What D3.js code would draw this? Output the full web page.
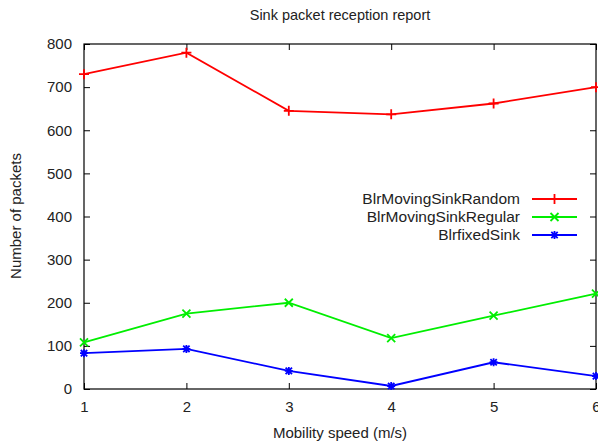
<!DOCTYPE html>
<html>
<head>
<meta charset="utf-8">
<script src="https://cdn.jsdelivr.net/npm/d3@7"></script>
<style>
  body { margin: 0; background: #fff; }
  text { font-family: "Liberation Sans", Arial, sans-serif; fill: #222; }
</style>
</head>
<body>
<div id="chart"></div>
<script>
const speeds = [1, 2, 3, 4, 5, 6];
const randomSink = [730, 780, 645, 637, 662, 700];
const regularSink = [108, 175, 200, 118, 170, 221];
const fixedSink = [83, 93, 42, 7, 62, 30];
const yTicks = [0, 100, 200, 300, 400, 500, 600, 700, 800];

const series = [
  { name: "BlrMovingSinkRandom", values: randomSink, color: "#ff0000", mark: "plus" },
  { name: "BlrMovingSinkRegular", values: regularSink, color: "#00ee00", mark: "cross" },
  { name: "BlrfixedSink", values: fixedSink, color: "#0000ff", mark: "star" }
];

const width = 598, height = 445;
const plotLeft = 84, plotRight = 596, plotTop = 44, plotBottom = 389;

const svg = d3.select("#chart").append("svg")
  .attr("width", width)
  .attr("height", height);

const x = d3.scaleLinear().domain([1, 6]).range([plotLeft, plotRight]);
const y = d3.scaleLinear().domain([0, 800]).range([plotBottom, plotTop]);

// frame
svg.append("rect")
  .attr("x", plotLeft).attr("y", plotTop)
  .attr("width", plotRight - plotLeft).attr("height", plotBottom - plotTop)
  .attr("fill", "none").attr("stroke", "#000").attr("stroke-width", 1.2);

// axes, ticks inward, mirrored
const ax = svg.append("g");
ax.append("g").attr("transform", `translate(0,${plotBottom})`)
  .call(d3.axisBottom(x).tickValues(speeds).tickSize(-6).tickPadding(12).tickFormat(d3.format("d")))
  .call(g => g.select(".domain").remove());
ax.append("g").attr("transform", `translate(0,${plotTop})`)
  .call(d3.axisTop(x).tickValues(speeds).tickSize(-6).tickFormat(""))
  .call(g => g.select(".domain").remove());
ax.append("g").attr("transform", `translate(${plotLeft},0)`)
  .call(d3.axisLeft(y).tickValues(yTicks).tickSize(-6).tickPadding(12))
  .call(g => g.select(".domain").remove());
ax.append("g").attr("transform", `translate(${plotRight},0)`)
  .call(d3.axisRight(y).tickValues(yTicks).tickSize(-6).tickFormat(""))
  .call(g => g.select(".domain").remove());
ax.selectAll("g").attr("font-size", null).attr("font-family", null);
ax.selectAll("text").attr("font-size", 15).attr("fill", "#222");
ax.selectAll(".tick line").attr("stroke", "#000");

function marker(g, type, size) {
  const s = size;
  const p = d3.path();
  if (type === "plus" || type === "star") {
    p.moveTo(-s, 0); p.lineTo(s, 0);
    p.moveTo(0, -s); p.lineTo(0, s);
  }
  if (type === "cross" || type === "star") {
    p.moveTo(-s * 0.8, -s * 0.8); p.lineTo(s * 0.8, s * 0.8);
    p.moveTo(-s * 0.8, s * 0.8); p.lineTo(s * 0.8, -s * 0.8);
  }
  g.append("path").attr("d", p.toString());
}

const line = d3.line().x((d, i) => x(speeds[i])).y(d => y(d));

series.forEach(s => {
  svg.append("path")
    .datum(s.values)
    .attr("d", line)
    .attr("fill", "none")
    .attr("stroke", s.color)
    .attr("stroke-width", 1.8);
  const pts = svg.append("g").attr("stroke", s.color).attr("stroke-width", 1.8);
  s.values.forEach((v, i) => {
    const g = pts.append("g").attr("transform", `translate(${x(speeds[i])},${y(v)})`);
    marker(g, s.mark, s.mark === "star" ? 4 : 5);
  });
});

// legend
const leg = svg.append("g").attr("transform", "translate(520,199)");
series.forEach((s, i) => {
  const r = leg.append("g").attr("transform", `translate(0,${i * 18})`);
  r.append("text").attr("x", 0).attr("y", 5).attr("text-anchor", "end")
    .attr("font-size", 15.5).text(s.name);
  r.append("line").attr("x1", 12).attr("x2", 57).attr("y1", 0).attr("y2", 0)
    .attr("stroke", s.color).attr("stroke-width", 1.8);
  const m = r.append("g").attr("transform", "translate(34.5,0)")
    .attr("stroke", s.color).attr("stroke-width", 1.8);
  marker(m, s.mark, s.mark === "star" ? 4 : 5);
});

// titles
svg.append("text").attr("x", 340).attr("y", 20).attr("text-anchor", "middle")
  .attr("font-size", 14.5).text("Sink packet reception report");
svg.append("text").attr("x", 340).attr("y", 438).attr("text-anchor", "middle")
  .attr("font-size", 15).text("Mobility speed (m/s)");
svg.append("text").attr("transform", "translate(21,216) rotate(-90)")
  .attr("text-anchor", "middle").attr("font-size", 15).text("Number of packets");
</script>
</body>
</html>
